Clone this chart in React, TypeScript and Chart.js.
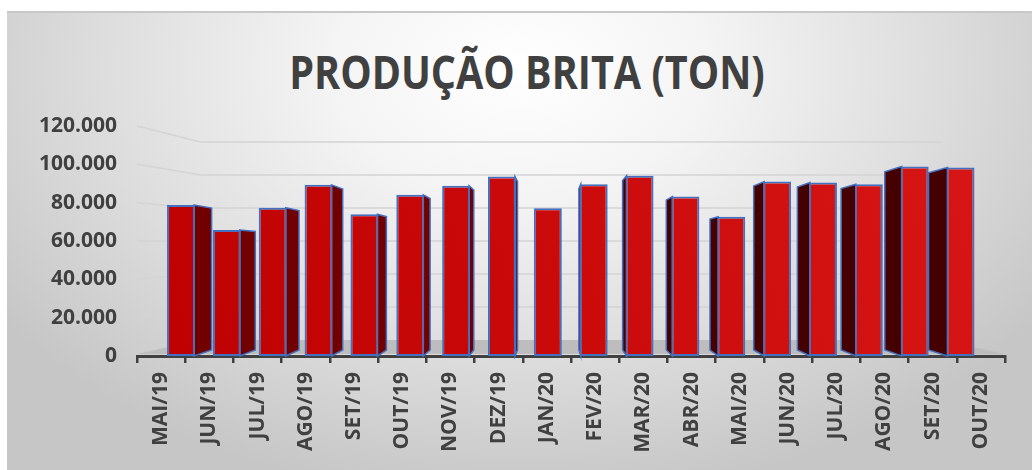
import React, { useEffect, useRef } from "react";
import { Chart, registerables } from "chart.js";

Chart.register(...registerables);

const titleText = "PRODUÇÃO BRITA (TON)";

const categories = [
  "MAI/19", "JUN/19", "JUL/19", "AGO/19", "SET/19", "OUT/19", "NOV/19", "DEZ/19", "JAN/20",
  "FEV/20", "MAR/20", "ABR/20", "MAI/20", "JUN/20", "JUL/20", "AGO/20", "SET/20", "OUT/20",
];

const production = [
  78800, 65800, 77400, 89300, 74000, 84100, 88800, 93600, 77100,
  89600, 94000, 83200, 72700, 91000, 90500, 89600, 98900, 98300,
];

const yTicks = [0, 20000, 40000, 60000, 80000, 100000, 120000];

const TEXT = "#404040";
const FONT = "'Open Sans', 'DejaVu Sans', sans-serif";

function fmt(v: number): string {
  return String(Math.round(v)).replace(/\B(?=(\d{3})+(?!\d))/g, ".");
}

const threeD = {
  id: "threeD",
  beforeDatasetsDraw(chart: any) {
    const { ctx, chartArea: ca, scales } = chart;
    const ys = scales.y;
    const base = ys.getPixelForValue(0);
    const wl = ca.left + ca.width * 0.073;
    const wr = ca.right - ca.width * 0.073;
    const wallY = (p: number) => base - 16 + (p - base) * 0.861;
    const backY = (p: number) => base - 6 + (p - base) * 0.94;

    ctx.save();
    // floor
    ctx.fillStyle = "#bdbdbd";
    ctx.beginPath();
    ctx.moveTo(ca.left, base - 2);
    ctx.lineTo(wl, wallY(base));
    ctx.lineTo(wr, wallY(base));
    ctx.lineTo(ca.right, base - 2);
    ctx.closePath();
    ctx.fill();

    // back + side wall gridlines
    ctx.strokeStyle = "#d4d4d4";
    ctx.lineWidth = 1.5;
    yTicks.forEach((v) => {
      if (v === 0) return;
      const yl = ys.getPixelForValue(v);
      const yw = wallY(yl);
      ctx.beginPath();
      ctx.moveTo(ca.left, yl);
      ctx.lineTo(wl, yw);
      ctx.lineTo(wr, yw);
      ctx.stroke();
    });

    // side faces of bars
    const meta = chart.getDatasetMeta(0);
    const vanish = ca.left + ca.width * 0.482;
    meta.data.forEach((bar: any) => {
      const p = bar.getProps(["x", "y", "width", "base"], true);
      const dx = (vanish - p.x) * 0.047;
      if (Math.abs(dx) < 1) return;
      const edge = dx > 0 ? p.x + p.width / 2 - 1 : p.x - p.width / 2 + 1;
      ctx.fillStyle = dx > 0 ? "#710000" : "#450000";
      ctx.strokeStyle = "#4470c0";
      ctx.lineWidth = 1.5;
      ctx.beginPath();
      ctx.moveTo(edge, p.y);
      ctx.lineTo(edge + dx, backY(p.y));
      ctx.lineTo(edge + dx, backY(p.base));
      ctx.lineTo(edge, p.base);
      ctx.closePath();
      ctx.fill();
      ctx.stroke();
    });
    ctx.restore();
  },
};

export default function App() {
  const canvasRef = useRef<HTMLCanvasElement | null>(null);

  useEffect(() => {
    const canvas = canvasRef.current;
    if (!canvas) return;
    const chart = new Chart(canvas, {
      type: "bar",
      data: {
        labels: categories,
        datasets: [
          {
            label: titleText,
            data: production.map((v, i) => ({ x: i, y: v })),
            xAxisID: "xb",
            yAxisID: "y",
            backgroundColor: (c: any) => {
              const ca = c.chart.chartArea;
              if (!ca) return "#c00000";
              const g = c.chart.ctx.createLinearGradient(ca.left, ca.bottom, ca.right, ca.top);
              g.addColorStop(0, "#be0000");
              g.addColorStop(1, "#d81616");
              return g;
            },
            borderColor: "#4470c0",
            borderWidth: 2,
            borderSkipped: false,
            barPercentage: 0.61,
            categoryPercentage: 1,
          },
        ],
      },
      options: {
        responsive: false,
        animation: false,
        devicePixelRatio: 1,
        layout: { padding: { top: 126, right: 27, left: 0, bottom: 0 } },
        plugins: {
          legend: { display: false },
          title: { display: false },
          tooltip: { enabled: false },
        },
        scales: {
          x: {
            type: "category",
            position: "bottom",
            offset: true,
            afterFit: (s: any) => {
              s.height = 114;
            },
            grid: {
              display: true,
              offset: true,
              drawOnChartArea: false,
              drawTicks: true,
              tickLength: 7,
              color: TEXT,
              lineWidth: 2.5,
            },
            border: { display: true, color: TEXT, width: 3 },
            ticks: {
              color: TEXT,
              font: { family: FONT, size: 21, weight: "bold" },
              minRotation: 90,
              maxRotation: 90,
              autoSkip: false,
              padding: 9,
            },
          },
          xb: {
            type: "linear",
            position: "bottom",
            display: false,
            offset: false,
            min: -0.96,
            max: 17.97,
            grid: { display: false },
          },
          y: {
            type: "linear",
            min: 0,
            max: 120000,
            afterFit: (s: any) => {
              s.width = 137;
            },
            afterBuildTicks: (s: any) => {
              s.ticks = yTicks.map((v) => ({ value: v }));
            },
            grid: { display: false, drawTicks: false },
            border: { display: false },
            ticks: {
              color: TEXT,
              font: { family: FONT, size: 21, weight: "bold" },
              padding: 20,
              callback: (v: any) => fmt(Number(v)),
            },
          },
        },
      },
      plugins: [threeD],
    });
    return () => chart.destroy();
  }, []);

  return (
    <div style={{ position: "absolute", left: 0, top: 0, width: 1032, height: 470, overflow: "hidden" }}>
      <div
        style={{
          position: "absolute",
          left: 7,
          top: 11,
          width: 1025,
          height: 459,
          borderTop: "2px solid #c8c8c8",
          boxSizing: "border-box",
          background:
            "radial-gradient(ellipse 62% 95% at 50% 12%, #ffffff 0%, #f4f4f4 30%, #dcdcdc 68%, #c6c6c6 100%)",
        }}
      />
      <div
        style={{
          position: "absolute",
          left: 0,
          top: 48,
          width: 1054,
          textAlign: "center",
          fontFamily: FONT,
          fontWeight: 700,
          fontSize: 46,
          lineHeight: "46px",
          color: TEXT,
          whiteSpace: "nowrap",
          transform: "scaleX(0.86)",
          transformOrigin: "527px 0",
        }}
      >
        {titleText}
      </div>
      <canvas
        ref={canvasRef}
        width={1032}
        height={470}
        style={{ position: "absolute", left: 0, top: 0, display: "block" }}
      />
    </div>
  );
}
